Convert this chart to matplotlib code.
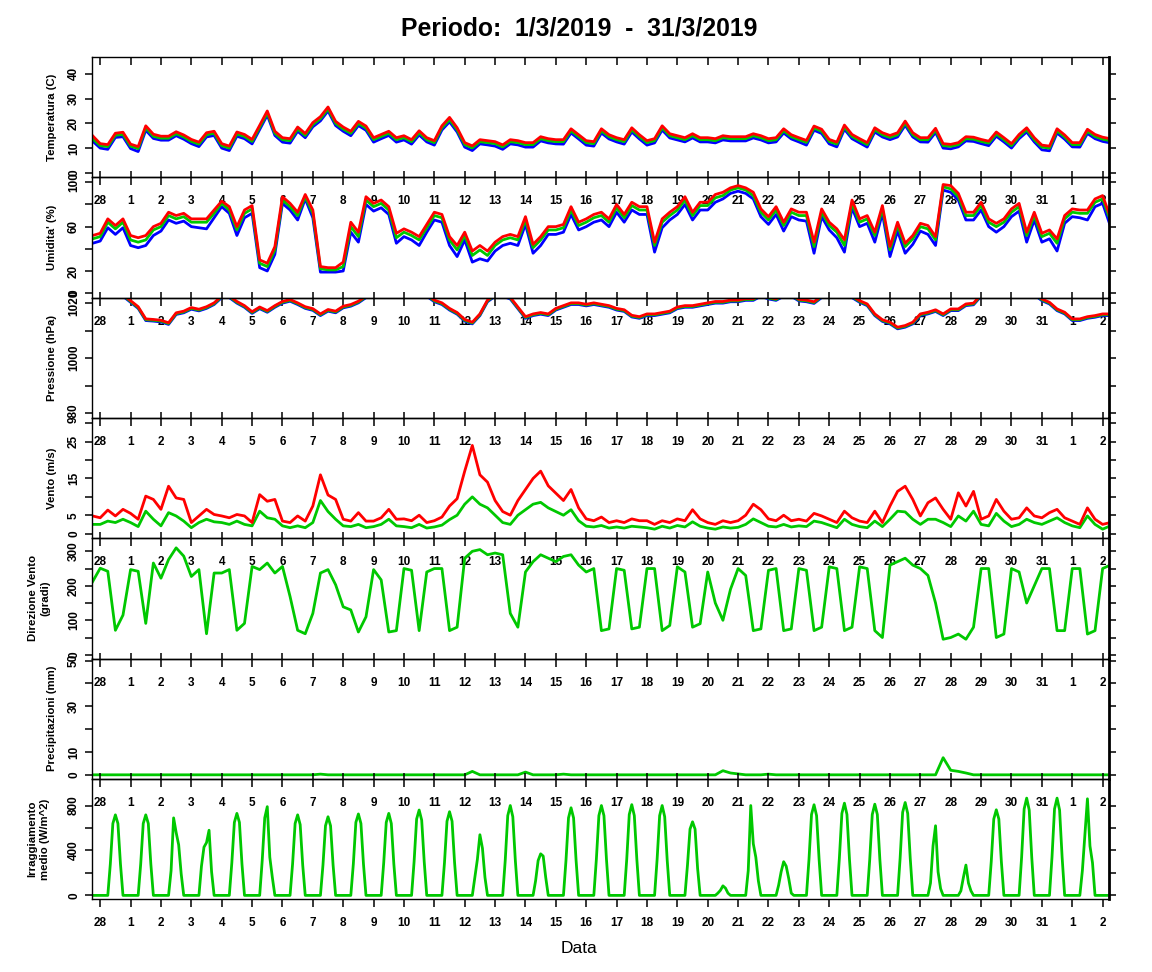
import numpy as np
import matplotlib
matplotlib.use('Agg')
import matplotlib.pyplot as plt
import matplotlib.lines as mlines

plt.rcParams['font.family'] = ['Liberation Sans', 'DejaVu Sans']

# ---------------- data (6-hourly samples from t=-0.25 day, t=0 is the "28" tick) ----------------
DAY_LABELS = ['28'] + [str(d) for d in range(1, 32)] + ['1', '2']

TEMP_MAX = [15.0,
 11.8, 11.4, 16.0, 16.4, 11.6, 10.6, 19.0, 15.6, 14.8, 14.8, 16.6, 15.3, 13.5, 12.4, 16.2, 16.8,
 11.8, 10.8, 16.5, 15.5, 13.5, 19.2, 25.0, 16.8, 14.2, 13.8, 18.5, 15.9, 20.3, 22.7, 26.6, 20.8,
 18.5, 16.8, 20.8, 18.9, 14.2, 15.5, 16.8, 14.2, 15.0, 13.4, 17.0, 14.2, 13.0, 19.0, 22.4, 18.2,
 12.2, 10.9, 13.4, 13.0, 12.6, 11.3, 13.4, 13.0, 12.2, 12.2, 14.6, 13.8, 13.4, 13.4, 17.8, 15.4,
 13.0, 12.6, 17.8, 15.4, 14.2, 13.4, 18.2, 15.4, 13.0, 13.8, 19.0, 15.8, 15.0, 14.2, 15.8, 14.2,
 14.2, 13.8, 15.0, 14.6, 14.6, 14.6, 15.8, 15.0, 13.8, 14.2, 17.8, 15.4, 14.2, 13.1, 18.9, 17.6,
 13.5, 12.4, 19.3, 15.5, 13.8, 12.2, 18.2, 16.2, 15.1, 16.2, 20.9, 16.2, 14.2, 14.2, 18.0, 11.8,
 11.5, 12.2, 14.6, 14.4, 13.5, 12.8, 16.5, 14.2, 11.8, 15.5, 18.2, 14.2, 11.2, 10.8, 17.8, 15.3,
 12.2, 12.2, 17.6, 15.5, 14.4, 13.8]
TEMP_MED = [13.8,
 11.0, 10.6, 15.2, 15.5, 10.8, 9.8, 18.2, 14.8, 14.0, 14.0, 15.8, 14.5, 12.7, 11.6, 15.4, 16.0,
 11.0, 10.0, 15.7, 14.7, 12.7, 18.4, 24.2, 16.0, 13.4, 13.0, 17.7, 15.1, 19.5, 21.9, 25.8, 20.0,
 17.7, 16.0, 20.0, 18.1, 13.4, 14.7, 16.0, 13.4, 14.2, 12.6, 16.2, 13.4, 12.2, 18.2, 21.5, 17.4,
 11.4, 10.1, 12.6, 12.2, 11.8, 10.5, 12.6, 12.2, 11.4, 11.4, 13.8, 13.0, 12.6, 12.6, 17.0, 14.6,
 12.2, 11.8, 17.0, 14.6, 13.4, 12.6, 17.4, 14.6, 12.2, 13.0, 18.2, 15.0, 14.2, 13.4, 15.0, 13.4,
 13.4, 13.0, 14.2, 13.8, 13.8, 13.8, 15.0, 14.2, 13.0, 13.4, 17.0, 14.6, 13.4, 12.3, 18.1, 16.8,
 12.7, 11.6, 18.5, 14.7, 13.0, 11.4, 17.4, 15.4, 14.3, 15.4, 20.1, 15.4, 13.4, 13.4, 17.2, 11.0,
 10.7, 11.4, 13.8, 13.6, 12.7, 12.0, 15.7, 13.4, 11.0, 14.7, 17.4, 13.4, 10.4, 10.0, 17.0, 14.5,
 11.4, 11.4, 16.8, 14.7, 13.6, 13.0]
TEMP_MIN = [12.8,
 10.0, 9.5, 14.3, 14.6, 9.8, 8.6, 17.2, 13.9, 13.2, 13.2, 15.0, 13.6, 11.8, 10.6, 14.5, 15.1,
 10.0, 9.0, 14.8, 13.8, 11.7, 17.5, 23.3, 15.1, 12.4, 12.0, 16.8, 14.2, 18.6, 21.0, 25.0, 19.1,
 16.8, 15.0, 19.1, 17.2, 12.4, 13.8, 15.1, 12.4, 13.3, 11.6, 15.3, 12.5, 11.2, 17.3, 20.6, 16.5,
 10.4, 9.0, 11.7, 11.3, 10.8, 9.5, 11.7, 11.3, 10.4, 10.4, 12.9, 12.1, 11.7, 11.6, 16.1, 13.7,
 11.2, 10.8, 16.1, 13.7, 12.5, 11.6, 16.5, 13.7, 11.2, 12.1, 17.3, 14.1, 13.3, 12.5, 14.1, 12.5,
 12.5, 12.1, 13.3, 12.9, 12.9, 12.9, 14.1, 13.3, 12.1, 12.5, 16.1, 13.7, 12.5, 11.2, 17.2, 15.9,
 11.7, 10.5, 17.6, 13.8, 12.1, 10.4, 16.5, 14.5, 13.4, 14.5, 19.2, 14.5, 12.5, 12.4, 16.3, 10.0,
 9.7, 10.5, 12.9, 12.7, 11.8, 11.0, 14.8, 12.5, 10.0, 13.8, 16.5, 12.5, 9.3, 8.9, 16.1, 13.6,
 10.5, 10.4, 15.9, 13.8, 12.7, 12.1]

HUM_MAX = [52,
 54, 67, 61, 67, 52, 50, 52, 60, 63, 73, 70, 72, 67, 67, 67, 75,
 83, 78, 60, 75, 79, 30, 27, 42, 87, 81, 73, 89, 75, 24, 23, 23,
 28, 64, 55, 87, 81, 84, 78, 54, 58, 55, 51, 62, 73, 71, 51, 43,
 55, 38, 43, 38, 46, 51, 53, 51, 69, 44, 51, 60, 60, 62, 78, 64,
 67, 71, 73, 67, 80, 71, 82, 78, 78, 46, 67, 73, 78, 87, 73, 82,
 82, 89, 91, 95, 97, 95, 91, 76, 69, 78, 64, 76, 73, 73, 46, 76,
 64, 58, 48, 84, 67, 70, 55, 79, 42, 64, 45, 52, 63, 61, 51, 98,
 97, 90, 73, 73, 82, 67, 63, 67, 76, 81, 55, 73, 54, 57, 49, 70,
 76, 75, 75, 85, 88, 69]
HUM_MED = [49,
 51, 64, 58, 64, 48, 46, 48, 57, 60, 70, 67, 69, 64, 64, 64, 72,
 81, 75, 57, 72, 76, 27, 24, 39, 84, 78, 70, 87, 72, 22, 21, 21,
 24, 60, 51, 84, 78, 81, 75, 50, 55, 52, 48, 59, 70, 68, 48, 39,
 52, 34, 39, 34, 43, 48, 50, 48, 66, 41, 48, 57, 57, 59, 75, 61,
 64, 68, 70, 64, 77, 68, 79, 75, 75, 43, 64, 70, 75, 84, 70, 79,
 79, 86, 88, 93, 95, 93, 88, 73, 66, 75, 61, 73, 70, 70, 42, 73,
 61, 55, 43, 81, 64, 67, 52, 76, 39, 61, 42, 49, 60, 58, 48, 96,
 94, 87, 70, 70, 79, 64, 60, 64, 73, 78, 52, 70, 51, 54, 45, 67,
 73, 72, 72, 82, 85, 66]
HUM_MIN = [45,
 47, 59, 53, 59, 43, 41, 43, 52, 56, 66, 63, 65, 60, 59, 58, 68,
 78, 72, 52, 68, 72, 23, 20, 35, 81, 75, 66, 85, 68, 19, 19, 19,
 20, 55, 46, 80, 74, 77, 71, 45, 51, 48, 43, 55, 66, 64, 43, 33,
 48, 28, 31, 29, 38, 43, 45, 43, 62, 36, 43, 53, 53, 55, 71, 57,
 60, 64, 66, 60, 73, 64, 75, 71, 71, 37, 59, 66, 71, 80, 66, 75,
 75, 82, 85, 90, 92, 90, 85, 69, 62, 71, 56, 69, 66, 65, 36, 69,
 57, 50, 37, 77, 60, 63, 46, 72, 33, 56, 36, 44, 56, 53, 43, 93,
 91, 84, 66, 66, 75, 60, 55, 60, 69, 74, 46, 66, 46, 49, 38, 63,
 69, 68, 66, 78, 81, 61]

PRES_MAX = [1024.0,
 1024.0, 1024.5, 1024.5, 1023.0, 1020.8, 1018.6, 1014.2, 1014.0, 1013.7, 1012.8, 1016.4, 1017.0,
 1018.3, 1017.7, 1018.6, 1020.0, 1022.5, 1022.5, 1020.5, 1019.0, 1016.8, 1018.5, 1017.2, 1019.0,
 1020.5, 1021.2, 1020.0, 1018.6, 1017.9, 1016.0, 1017.6, 1017.0, 1018.8, 1019.4, 1020.6, 1022.5,
 1024.0, 1025.0, 1025.0, 1025.0, 1025.0, 1025.0, 1024.0, 1023.0, 1021.0, 1020.0, 1018.0, 1016.5,
 1014.0, 1013.0, 1016.0, 1021.0, 1023.0, 1023.0, 1022.0, 1018.5, 1015.0, 1016.0, 1016.5, 1016.0,
 1018.0, 1019.0, 1020.0, 1020.0, 1019.5, 1020.0, 1019.5, 1019.0, 1018.0, 1017.5, 1015.5, 1015.0,
 1016.0, 1016.0, 1016.5, 1017.0, 1018.5, 1019.0, 1019.0, 1019.5, 1020.0, 1020.5, 1020.5, 1021.0,
 1021.0, 1021.5, 1021.5, 1023.0, 1022.0, 1021.5, 1023.0, 1023.0, 1021.3, 1021.0, 1020.4, 1022.5,
 1024.0, 1024.0, 1023.5, 1022.5, 1020.8, 1019.6, 1016.0, 1013.9, 1013.0, 1011.2, 1011.8, 1013.0,
 1016.0, 1016.6, 1017.5, 1016.0, 1017.8, 1017.8, 1019.6, 1019.9, 1023.0, 1024.0, 1025.0, 1025.0,
 1025.0, 1025.0, 1024.5, 1023.5, 1021.4, 1020.2, 1017.8, 1016.6, 1014.2, 1014.2, 1015.0, 1015.4,
 1016.0, 1016.0]
PRES_MED = [1023.7,
 1023.7, 1024.2, 1024.2, 1022.7, 1020.5, 1018.3, 1013.9, 1013.7, 1013.4, 1012.5, 1016.1, 1016.7,
 1018.0, 1017.4, 1018.3, 1019.7, 1022.2, 1022.2, 1020.2, 1018.7, 1016.5, 1018.2, 1016.9, 1018.7,
 1020.2, 1020.9, 1019.7, 1018.3, 1017.6, 1015.7, 1017.3, 1016.7, 1018.5, 1019.1, 1020.3, 1022.2,
 1023.7, 1024.7, 1024.7, 1024.7, 1024.7, 1024.7, 1023.7, 1022.7, 1020.7, 1019.7, 1017.7, 1016.2,
 1013.7, 1012.7, 1015.7, 1020.7, 1022.7, 1022.7, 1021.7, 1018.2, 1014.7, 1015.7, 1016.2, 1015.7,
 1017.7, 1018.7, 1019.7, 1019.7, 1019.2, 1019.7, 1019.2, 1018.7, 1017.7, 1017.2, 1015.2, 1014.7,
 1015.7, 1015.7, 1016.2, 1016.7, 1018.2, 1018.7, 1018.7, 1019.2, 1019.7, 1020.2, 1020.2, 1020.7,
 1020.7, 1021.2, 1021.2, 1022.7, 1021.7, 1021.2, 1022.7, 1022.7, 1021.0, 1020.7, 1020.1, 1022.2,
 1023.7, 1023.7, 1023.2, 1022.2, 1020.5, 1019.3, 1015.7, 1013.6, 1012.7, 1010.9, 1011.5, 1012.7,
 1015.7, 1016.3, 1017.2, 1015.7, 1017.5, 1017.5, 1019.3, 1019.6, 1022.7, 1023.7, 1024.7, 1024.7,
 1024.7, 1024.7, 1024.2, 1023.2, 1021.1, 1019.9, 1017.5, 1016.3, 1013.9, 1013.9, 1014.7, 1015.1,
 1015.7, 1015.7]
PRES_MIN = [1023.4,
 1023.4, 1023.9, 1023.9, 1022.4, 1020.2, 1018.0, 1013.6, 1013.4, 1013.1, 1012.2, 1015.8, 1016.4,
 1017.7, 1017.1, 1018.0, 1019.4, 1021.9, 1021.9, 1019.9, 1018.4, 1016.2, 1017.9, 1016.6, 1018.4,
 1019.9, 1020.6, 1019.4, 1018.0, 1017.3, 1015.4, 1017.0, 1016.4, 1018.2, 1018.8, 1020.0, 1021.9,
 1023.4, 1024.4, 1024.4, 1024.4, 1024.4, 1024.4, 1023.4, 1022.4, 1020.4, 1019.4, 1017.4, 1015.9,
 1013.4, 1012.4, 1015.4, 1020.4, 1022.4, 1022.4, 1021.4, 1017.9, 1014.4, 1015.4, 1015.9, 1015.4,
 1017.4, 1018.4, 1019.4, 1019.4, 1018.9, 1019.4, 1018.9, 1018.4, 1017.4, 1016.9, 1014.9, 1014.4,
 1015.4, 1015.4, 1015.9, 1016.4, 1017.9, 1018.4, 1018.4, 1018.9, 1019.4, 1019.9, 1019.9, 1020.4,
 1020.4, 1020.9, 1020.9, 1022.4, 1021.4, 1020.9, 1022.4, 1022.4, 1020.7, 1020.4, 1019.8, 1021.9,
 1023.4, 1023.4, 1022.9, 1021.9, 1020.2, 1019.0, 1015.4, 1013.3, 1012.4, 1010.6, 1011.2, 1012.4,
 1015.4, 1016.0, 1016.9, 1015.4, 1017.2, 1017.2, 1019.0, 1019.3, 1022.4, 1023.4, 1024.4, 1024.4,
 1024.4, 1024.4, 1023.9, 1022.9, 1020.8, 1019.6, 1017.2, 1016.0, 1013.6, 1013.6, 1014.4, 1014.8,
 1015.4, 1015.4]

WIND_MAX = [4.8,
 4.3, 6.4, 4.8, 6.6, 5.5, 3.9, 10.2, 9.3, 6.6, 12.9, 9.7, 9.3, 3.0, 4.8, 6.6, 5.2,
 4.8, 4.3, 5.2, 4.8, 3.0, 10.6, 8.8, 9.3, 3.4, 3.0, 4.8, 3.4, 7.5, 16.0, 10.5, 9.3,
 3.9, 3.4, 5.7, 3.4, 3.4, 4.3, 6.6, 3.9, 4.0, 3.5, 5.0, 3.0, 3.5, 4.5, 7.5, 9.5,
 17.0, 24.0, 16.0, 14.0, 9.0, 6.0, 5.0, 9.0, 12.0, 15.0, 17.0, 13.0, 11.0, 9.0, 12.0, 7.0,
 4.0, 3.5, 4.5, 3.0, 3.5, 3.0, 4.0, 3.5, 3.5, 2.5, 3.5, 3.0, 4.0, 3.5, 6.5, 4.0,
 3.0, 2.5, 3.5, 3.0, 3.5, 5.0, 8.0, 6.5, 4.0, 3.5, 5.0, 3.5, 3.9, 3.4, 5.5, 4.8,
 3.9, 3.0, 6.1, 4.3, 3.4, 3.0, 6.1, 3.0, 7.5, 11.5, 12.9, 9.3, 4.8, 8.4, 9.7, 6.6,
 3.9, 11.1, 7.5, 11.5, 3.9, 4.8, 9.3, 6.1, 3.9, 4.3, 7.0, 4.8, 4.3, 5.7, 6.6, 4.3,
 3.4, 2.5, 7.0, 3.9, 2.5, 3.0]
WIND_MED = [2.5,
 2.5, 3.4, 3.0, 3.9, 3.0, 1.9, 6.1, 3.9, 2.1, 5.7, 4.8, 3.4, 1.6, 3.0, 3.9, 3.2,
 3.0, 2.5, 3.4, 2.5, 2.1, 6.1, 4.3, 3.9, 2.1, 1.6, 2.1, 1.6, 3.0, 9.0, 6.0, 3.9,
 2.1, 1.9, 2.5, 1.6, 1.9, 2.5, 3.9, 2.1, 1.9, 1.6, 2.5, 1.5, 1.8, 2.3, 3.8, 5.0,
 8.0, 10.0, 8.0, 7.0, 5.0, 3.0, 2.5, 5.0, 6.5, 8.0, 8.5, 7.0, 6.0, 5.0, 6.5, 3.5,
 2.0, 1.8, 2.2, 1.5, 1.8, 1.5, 2.0, 1.8, 1.6, 1.2, 2.0, 1.5, 2.2, 1.8, 3.2, 2.0,
 1.5, 1.2, 1.8, 1.5, 1.7, 2.5, 4.0, 3.0, 2.0, 1.8, 2.5, 1.8, 2.1, 1.9, 3.4, 3.0,
 2.3, 1.6, 3.9, 2.5, 1.9, 1.6, 3.4, 1.9, 3.9, 6.1, 5.9, 3.9, 2.5, 3.9, 3.9, 3.0,
 1.9, 4.8, 3.4, 6.1, 2.5, 2.1, 5.5, 3.4, 1.9, 2.5, 3.9, 3.0, 2.5, 3.4, 4.3, 3.0,
 2.1, 1.6, 4.8, 2.5, 1.2, 2.1]

WIND_DIR = [212,
 251, 242, 71, 115, 247, 242, 91, 266, 222, 276, 310, 286, 227, 247, 61, 237,
 237, 247, 71, 91, 256, 247, 266, 237, 256, 169, 71, 61, 120, 237, 247, 203,
 139, 130, 66, 110, 247, 217, 66, 70, 250, 245, 70, 240, 250, 250, 70, 80,
 280, 300, 305, 290, 295, 290, 120, 80, 240, 270, 290, 280, 270, 285, 290, 260,
 240, 250, 70, 75, 250, 245, 75, 80, 250, 250, 70, 85, 255, 240, 80, 90,
 240, 150, 100, 190, 250, 230, 70, 75, 245, 250, 70, 75, 250, 245, 70, 80,
 255, 250, 70, 80, 255, 250, 70, 50, 260, 270, 280, 260, 250, 230, 150, 45,
 50, 60, 45, 80, 250, 250, 50, 60, 250, 240, 150, 200, 250, 250, 70, 70,
 250, 250, 60, 70, 250, 260]

RAIN = [0,
 0, 0, 0, 0, 0, 0, 0, 0, 0, 0, 0, 0, 0, 0, 0, 0,
 0, 0, 0, 0, 0, 0, 0, 0, 0, 0, 0, 0, 0, 0.3, 0, 0,
 0, 0, 0, 0, 0, 0, 0, 0, 0, 0, 0, 0, 0, 0, 0, 0,
 0, 1.5, 0, 0, 0, 0, 0, 0, 1.2, 0, 0, 0, 0, 0.3, 0, 0,
 0, 0, 0, 0, 0, 0, 0, 0, 0, 0, 0, 0, 0, 0, 0, 0,
 0, 0, 1.8, 0.8, 0.4, 0, 0, 0, 0.3, 0, 0, 0, 0, 0, 0, 0,
 0, 0, 0, 0, 0, 0, 0, 0, 0, 0, 0, 0, 0, 0, 0, 7.5,
 2.0, 1.5, 0.8, 0, 0, 0, 0, 0, 0, 0, 0, 0, 0, 0, 0, 0,
 0, 0, 0, 0, 0, 0]

# irradiance, 2-hourly: leading evening samples, then one row per day (00..22 h), then last morning
IRR_START = [0, 0, 0]
IRR_DAYS = [
 [0, 0, 0, 0, 280, 640, 717, 640, 280, 0, 0, 0],
 [0, 0, 0, 0, 280, 640, 717, 640, 280, 0, 0, 0],
 [0, 0, 0, 0, 220, 690, 560, 450, 190, 0, 0, 0],
 [0, 0, 0, 0, 260, 430, 470, 580, 210, 0, 0, 0],
 [0, 0, 0, 0, 290, 650, 730, 650, 280, 0, 0, 0],
 [0, 0, 0, 0, 310, 690, 790, 340, 160, 0, 0, 0],
 [0, 0, 0, 0, 280, 640, 717, 630, 270, 0, 0, 0],
 [0, 0, 0, 0, 270, 620, 700, 620, 270, 0, 0, 0],
 [0, 0, 0, 0, 280, 650, 725, 640, 280, 0, 0, 0],
 [0, 0, 0, 0, 290, 650, 730, 640, 280, 0, 0, 0],
 [0, 0, 0, 0, 300, 680, 760, 670, 300, 0, 0, 0],
 [0, 0, 0, 0, 290, 660, 745, 660, 290, 0, 0, 0],
 [0, 0, 0, 0, 160, 320, 540, 420, 160, 0, 0, 0],
 [0, 0, 0, 0, 310, 710, 800, 700, 310, 0, 0, 0],
 [0, 0, 0, 0, 130, 310, 370, 350, 160, 0, 0, 0],
 [0, 0, 0, 0, 310, 690, 780, 690, 310, 0, 0, 0],
 [0, 0, 0, 0, 320, 710, 800, 710, 320, 0, 0, 0],
 [0, 0, 0, 0, 320, 720, 808, 710, 320, 0, 0, 0],
 [0, 0, 0, 0, 320, 710, 800, 700, 310, 0, 0, 0],
 [0, 0, 0, 0, 270, 590, 655, 590, 240, 0, 0, 0],
 [0, 0, 0, 0, 20, 45, 85, 65, 20, 0, 0, 0],
 [0, 0, 0, 0, 220, 800, 460, 340, 130, 0, 0, 0],
 [0, 0, 0, 0, 90, 210, 300, 260, 150, 20, 0, 0],
 [0, 0, 0, 0, 320, 720, 807, 710, 320, 0, 0, 0],
 [0, 0, 0, 0, 330, 730, 821, 720, 320, 0, 0, 0],
 [0, 0, 0, 0, 320, 720, 812, 720, 320, 0, 0, 0],
 [0, 0, 0, 0, 330, 740, 827, 730, 330, 0, 0, 0],
 [0, 0, 0, 0, 110, 440, 620, 210, 60, 0, 0, 0],
 [0, 0, 0, 0, 40, 160, 270, 110, 40, 0, 0, 0],
 [0, 0, 0, 0, 300, 680, 762, 680, 300, 0, 0, 0],
 [0, 0, 0, 0, 340, 770, 866, 760, 340, 0, 0, 0],
 [0, 0, 0, 0, 340, 770, 866, 760, 340, 0, 0, 0],
 [0, 0, 0, 0, 220, 540, 860, 440, 290, 0, 0, 0],
]
IRR_END = [0, 0, 0, 0]

# ---------------- figure ----------------
IRR = IRR_START + [v for row in IRR_DAYS for v in row] + IRR_END
T6 = -0.25 + 0.25 * np.arange(len(TEMP_MED))
T2 = -0.25 + np.arange(len(IRR)) / 12.0

BLUE, GREEN, RED = '#0000FF', '#00C800', '#FF0000'
W, H = 1152, 972
fig = plt.figure(figsize=(W / 100, H / 100), dpi=100)

left_px, right_px = 92, 1109
top_px, panel_h = 57, 120.3
XLIM = (-0.27, 33.21)

panels = [
    dict(label='Temperatura (C)', ylim=(-1.8, 46.8), ticks=[0, 10, 20, 30, 40],
         labels=['0', '10', '20', '30', '40'],
         series=[(TEMP_MIN, BLUE), (TEMP_MED, GREEN), (TEMP_MAX, RED)], t=T6),
    dict(label="Umidita' (%)", ylim=(-4, 104.5), ticks=[0, 20, 40, 60, 80, 100],
         labels=['0', '20', '', '60', '', '100'],
         series=[(HUM_MIN, BLUE), (HUM_MED, GREEN), (HUM_MAX, RED)], t=T6),
    dict(label='Pressione (hPa)', ylim=(978.4, 1021.9), ticks=[980, 990, 1000, 1010, 1020],
         labels=['980', '', '1000', '', '1020'],
         series=[(PRES_MIN, BLUE), (PRES_MED, GREEN), (PRES_MAX, RED)], t=T6),
    dict(label='Vento (m/s)', ylim=(-1.26, 31.5), ticks=[0, 5, 10, 15, 20, 25, 30],
         labels=['0', '5', '', '15', '', '25', ''],
         series=[(WIND_MED, GREEN), (WIND_MAX, RED)], t=T6),
    dict(label='Direzione Vento\n(gradi)', ylim=(-10.8, 338), ticks=[0, 50, 100, 150, 200, 250, 300],
         labels=['0', '', '100', '', '200', '', '300'],
         series=[(WIND_DIR, GREEN)], t=T6),
    dict(label='Precipitazioni (mm)', ylim=(-1.74, 50.9), ticks=[0, 10, 20, 30, 40, 50],
         labels=['0', '10', '', '30', '', '50'],
         series=[(RAIN, GREEN)], t=T6),
    dict(label='Irraggiamento\nmedio (W/m^2)', ylim=(-33, 1038), ticks=[0, 200, 400, 600, 800],
         labels=['0', '', '400', '', '800'],
         series=[(IRR, GREEN)], t=T2),
]

PX = 72 / 100.0  # points per pixel
for k, p in enumerate(panels):
    y0 = top_px + panel_h * (k + 1)
    ax = fig.add_axes([left_px / W, 1 - y0 / H, (right_px - left_px) / W, panel_h / H])
    ax.set_facecolor('none')
    for vals, col in p['series']:
        ax.plot(p['t'], vals, color=col, lw=2.0, solid_joinstyle='round')
    ax.set_xlim(*XLIM)
    ax.set_ylim(*p['ylim'])
    ax.set_xticks(range(len(DAY_LABELS)))
    ax.set_xticklabels(DAY_LABELS, fontsize=8.5, fontweight='bold')
    ax.set_yticks(p['ticks'])
    ax.set_yticklabels(p['labels'], fontsize=8.5, fontweight='bold', rotation=90, va='center')
    ax.tick_params(axis='x', bottom=True, top=True, direction='out',
                   length=8 * PX, width=1.1, pad=10 * PX)
    for tk in ax.xaxis.get_major_ticks():
        if k == 0:
            tk.tick2line.set_marker(mlines.TICKDOWN)
            tk.tick2line.set_markersize(8 * PX)
        else:
            tk.tick2line.set_marker(mlines.TICKUP)
            tk.tick2line.set_markersize(6 * PX)
    ax.tick_params(axis='y', left=True, right=True, direction='out', length=7 * PX,
                   width=1.1, pad=5 * PX)
    for sp in ax.spines.values():
        sp.set_linewidth(1.0)
    ax.spines['right'].set_linewidth(2.0)
    ax.set_ylabel(p['label'], fontsize=8.2, fontweight='bold', linespacing=1.3)
    xc = 57 if '\n' not in p['label'] else 50
    ax.yaxis.set_label_coords((xc - left_px) / (right_px - left_px), 0.5)

fig.text(579 / W, 1 - 28 / H, 'Periodo:  1/3/2019  -  31/3/2019', ha='center', va='center',
         fontsize=17.8, fontweight='bold')
fig.text(579 / W, 1 - 948 / H, 'Data', ha='center', va='center', fontsize=12.5)

fig.savefig('out.png', dpi=100)
